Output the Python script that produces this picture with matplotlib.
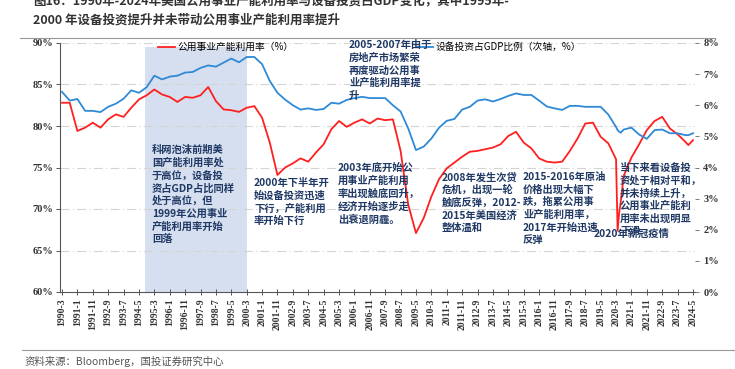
import matplotlib
matplotlib.use("Agg")
import matplotlib.pyplot as plt
from matplotlib.lines import Line2D

plt.rcParams['font.family'] = ['Noto Sans CJK SC', 'DejaVu Sans']

# 月份（1990-3 到 2024-5），取样点
fechas = ["1990-3", "1990-8", "1991-1", "1991-6", "1991-11", "1992-4", "1992-9", "1993-2",
          "1993-7", "1993-12", "1994-5", "1994-10", "1995-3", "1995-8", "1996-1", "1996-6",
          "1996-11", "1997-4", "1997-9", "1998-2", "1998-7", "1998-12", "1999-5", "1999-10",
          "2000-3", "2000-8", "2001-1", "2001-6", "2001-11", "2002-4", "2002-9", "2003-2",
          "2003-7", "2003-12", "2004-5", "2004-10", "2005-3", "2005-8", "2006-1", "2006-6",
          "2006-11", "2007-4", "2007-9", "2008-2", "2008-7", "2008-12", "2009-5", "2009-10",
          "2010-3", "2010-8", "2011-1", "2011-6", "2011-11", "2012-4", "2012-9", "2013-2",
          "2013-7", "2013-12", "2014-5", "2014-10", "2015-3", "2015-8", "2016-1", "2016-6",
          "2016-11", "2017-4", "2017-9", "2018-2", "2018-7", "2018-12", "2019-5", "2019-10",
          "2020-3", "2020-4", "2020-5", "2020-6", "2020-8", "2021-1", "2021-6", "2021-11",
          "2022-4", "2022-9", "2023-2", "2023-7", "2023-12", "2024-2", "2024-5"]

# 公用事业产能利用率（%）
utilizacion = [82.8, 82.8, 79.4, 79.8, 80.4, 79.8, 80.8, 81.4,
               81.1, 82.2, 83.2, 83.7, 84.4, 83.8, 83.5, 82.9,
               83.5, 83.4, 83.7, 84.7, 83.0, 82.0, 81.9, 81.7,
               82.2, 82.4, 81.0, 78.0, 74.1, 75.0, 75.5, 76.1,
               75.7, 76.8, 77.8, 79.6, 80.6, 79.9, 80.4, 80.8,
               80.3, 80.9, 80.7, 80.8, 77.0, 70.5, 67.1, 68.9,
               71.5, 73.6, 74.9, 75.6, 76.3, 76.9, 77.0, 77.2,
               77.4, 77.8, 78.8, 79.3, 78.0, 77.3, 76.1, 75.7,
               75.6, 75.7, 77.0, 78.5, 80.3, 80.4, 78.7, 77.9,
               76.0, 67.4, 69.5, 70.8, 74.0, 76.2, 77.8, 79.5,
               80.6, 81.1, 79.7, 79.0, 78.1, 77.7, 78.3]

# 设备投资占GDP比例（次轴，%）
inversion = [6.43, 6.15, 6.20, 5.82, 5.82, 5.78, 5.95, 6.05,
             6.21, 6.48, 6.40, 6.58, 6.95, 6.83, 6.92, 6.95,
             7.05, 7.07, 7.20, 7.28, 7.24, 7.37, 7.50, 7.38,
             7.55, 7.55, 7.32, 6.78, 6.40, 6.18, 6.00, 5.86,
             5.90, 5.85, 5.88, 6.08, 6.05, 6.17, 6.23, 6.27,
             6.23, 6.23, 6.23, 6.00, 5.80, 5.25, 4.56, 4.67,
             4.93, 5.28, 5.50, 5.56, 5.86, 5.95, 6.15, 6.19,
             6.12, 6.20, 6.30, 6.38, 6.33, 6.33, 6.15, 5.96,
             5.90, 5.85, 5.98, 5.98, 5.95, 5.95, 5.95, 5.70,
             5.30, 5.20, 5.15, 5.12, 5.22, 5.28, 5.06, 4.92,
             5.20, 5.22, 5.10, 5.10, 5.04, 5.04, 5.10]

sombra = ("1994-9", "2000-3")


def mes(f):
    a, m = f.split("-")
    return (int(a) - 1990) * 12 + int(m) - 3


x = [mes(f) for f in fechas]
ticks = list(range(0, mes("2024-5") + 1, 10))
etiquetas = ["%d-%d" % (1990 + (t + 2) // 12, (t + 2) % 12 + 1) for t in ticks]

W, H = 735, 369
fig = plt.figure(figsize=(W / 100, H / 100), dpi=100)
ax = fig.add_axes([60 / W, 1 - 292 / H, 635 / W, 249 / H])
ax2 = ax.twinx()

rojo = '#ff1f1f'
azul = '#2f8ad6'
navy = '#1f3864'

ax.axvspan(mes(sombra[0]), mes(sombra[1]), ymin=0, ymax=0.985, color='#d6dff0', lw=0, zorder=0)
for v in range(65, 91, 5):
    ax.axhline(v, color='#d4d4d4', lw=0.8, ls=(0, (8, 3, 1, 3)), zorder=0.5)

l1, = ax.plot(x, utilizacion, color=rojo, lw=1.3, zorder=3)
l2, = ax2.plot(x, inversion, color=azul, lw=1.3, zorder=3)

ax.set_xlim(-1.3, 411.3)
ax.set_ylim(60, 90)
ax2.set_ylim(0, 8)
ax.set_yticks(range(60, 91, 5))
ax.set_yticklabels(["%d%%" % v for v in range(60, 91, 5)])
ax2.set_yticks(range(0, 9))
ax2.set_yticklabels(["%d%%" % v for v in range(0, 9)])
ax.set_xticks(ticks)
ax.set_xticklabels(etiquetas, rotation=90)

fp_y = matplotlib.font_manager.FontProperties(family='Liberation Serif', weight='bold', size=7.5)
fp_x = matplotlib.font_manager.FontProperties(family='Liberation Serif', weight='bold', size=7)
for t in ax.get_yticklabels() + ax2.get_yticklabels():
    t.set_fontproperties(fp_y)
    t.set_color('#333333')
for t in ax.get_xticklabels():
    t.set_fontproperties(fp_x)
    t.set_color('#333333')

for s in ['top', 'right']:
    ax.spines[s].set_visible(False)
for s in ['top', 'left', 'bottom', 'right']:
    ax2.spines[s].set_visible(False)
ax.spines['left'].set_color('#555555')
ax.spines['bottom'].set_color('#555555')
ax.tick_params(axis='x', direction='inout', length=5, width=0.7, color='#555555', pad=2)
ax.tick_params(axis='y', direction='out', length=3, width=0.7, color='#555555', pad=2)
ax2.tick_params(axis='y', direction='out', length=3, width=0.7, color='#777777', pad=3)

# 图例
ax.legend([l1], ["公用事业产能利用率（%）"], loc='upper left', frameon=False,
          bbox_to_anchor=(158 / W, 1 - 42 / H), bbox_transform=fig.transFigure,
          fontsize=7, handlelength=1.7, handletextpad=0.3, borderpad=0, borderaxespad=0)
ax2.legend([l2], ["设备投资占GDP比例（次轴，%）"], loc='upper left', frameon=False,
           bbox_to_anchor=(416 / W, 1 - 42 / H), bbox_transform=fig.transFigure,
           fontsize=7, handlelength=1.7, handletextpad=0.3, borderpad=0, borderaxespad=0)


def nota(px, py, s, va='top'):
    fig.text(px / W, 1 - py / H, s, fontsize=7.4, fontweight='bold', color=navy,
             va=va, ha='left', linespacing=1.3, zorder=5)


nota(152, 145, "科网泡沫前期美\n国产能利用率处\n于高位，设备投\n资占GDP占比同样\n处于高位，但\n1999年公用事业\n产能利用率开始\n回落")
nota(254, 178, "2000年下半年开\n始设备投资迅速\n下行，产能利用\n率开始下行")
nota(338, 163, "2003年底开始公\n用事业产能利用\n率出现触底回升，\n经济开始逐步走\n出衰退阴霾。")
nota(349, 40, "2005-2007年由于\n房地产市场繁荣\n再度驱动公用事\n业产能利用率提\n升")
nota(442, 172, "2008年发生次贷\n危机，出现一轮\n触底反弹，2012-\n2015年美国经济\n整体温和")
nota(523, 172, "2015-2016年原油\n价格出现大幅下\n跌，拖累公用事\n业产能利用率，\n2017年开始迅速\n反弹")
nota(620, 163, "当下来看设备投\n资处于相对平和，\n并未持续上升，\n公用事业产能利\n用率未出现明显\n下滑")
nota(594, 234, "2020年新冠疫情", va='center')

# 标题与来源
fig.text(33 / W, 1 - 1 / H, "图16：1990年-2024年美国公用事业产能利用率与设备投资占GDP变化，其中1995年-",
         fontsize=9, fontweight='bold', color='#333333', va='center')
fig.text(33 / W, 1 - 20 / H, "2000 年设备投资提升并未带动公用事业产能利用率提升",
         fontsize=9, fontweight='bold', color='#333333', va='center')
fig.add_artist(Line2D([20 / W, 715 / W], [1 - 38 / H] * 2, color='#999999', lw=0.8))
fig.add_artist(Line2D([22 / W, 735 / W], [1 - 350 / H] * 2, color='#999999', lw=0.8))
fig.text(25 / W, 1 - 361 / H, "资料来源：Bloomberg，国投证券研究中心", fontsize=7.5,
         color='#555555', style='italic', va='center')

fig.savefig("out.png", dpi=100)
